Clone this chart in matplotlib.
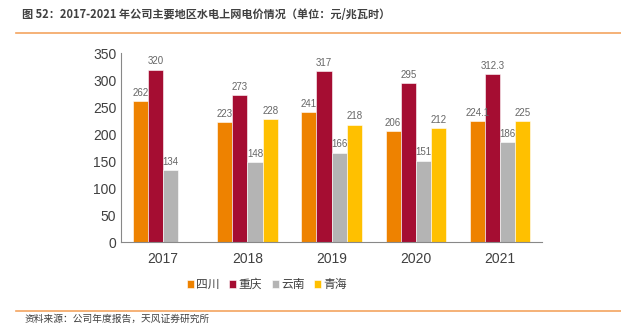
import numpy as np
import matplotlib
matplotlib.use("Agg")
import matplotlib.pyplot as plt
from matplotlib.lines import Line2D

plt.rcParams['font.family'] = ['Liberation Sans', 'Noto Sans CJK SC', 'DejaVu Sans']

years = ['2017', '2018', '2019', '2020', '2021']
regions = ['四川', '重庆', '云南', '青海']
sichuan = [262, 223, 241, 206, 224.1]
chongqing = [320, 273, 317, 295, 312.3]
yunnan = [134, 148, 166, 151, 186]
qinghai = [None, 228, 218, 212, 225]
colors = ['#EE8200', '#A50D32', '#B4B4B4', '#FFC000']

fig = plt.figure(figsize=(6.21, 3.24), dpi=100)
ax = fig.add_axes([0.195, 0.253, 0.678, 0.582])

x = np.arange(len(years))
w = 0.18
series = [sichuan, chongqing, yunnan, qinghai]
for i, (vals, c, name) in enumerate(zip(series, colors, regions)):
    xs = [xi + (i - 1.5) * w for xi, v in zip(x, vals) if v is not None]
    vs = [v for v in vals if v is not None]
    ax.bar(xs, vs, width=w, color=c, label=name, edgecolor='white', linewidth=0.4)
    for xx, v in zip(xs, vs):
        ax.text(xx, v + 6, f'{v:g}', ha='center', va='bottom', fontsize=7, color='#666666')

ax.set_xlim(-0.5, len(years) - 0.5)
ax.set_ylim(0, 350)
ax.set_yticks(range(0, 351, 50))
ax.set_xticks(x)
ax.set_xticklabels(years)
ax.tick_params(axis='both', length=0, labelsize=10, labelcolor='#404040')
ax.tick_params(axis='x', pad=7)
for s in ['top', 'right']:
    ax.spines[s].set_visible(False)
for s in ['left', 'bottom']:
    ax.spines[s].set_color('#888888')
    ax.spines[s].set_linewidth(0.8)

leg = fig.legend(loc='center', bbox_to_anchor=(0.43, 0.12), ncol=4, frameon=False,
                 fontsize=8.5, handlelength=0.6, handleheight=0.6, handletextpad=0.2,
                 columnspacing=0.8)
for t in leg.get_texts():
    t.set_color('#404040')

fig.text(0.035, 0.955, '图 52：2017-2021 年公司主要地区水电上网电价情况（单位：元/兆瓦时）',
         fontsize=8, color='#404040', fontweight='bold', va='center',
         family=['Noto Sans CJK SC', 'DejaVu Sans'])
fig.add_artist(Line2D([0.025, 1.0], [0.898, 0.898], color='#F4A460', linewidth=1.2))
fig.add_artist(Line2D([0.025, 1.0], [0.04, 0.04], color='#F4A460', linewidth=1.2))
fig.text(0.04, 0.0, '资料来源：公司年度报告，天风证券研究所', fontsize=7, color='#404040',
         va='bottom', family=['Noto Sans CJK SC', 'DejaVu Sans'])

fig.savefig('out.png', dpi=100)
